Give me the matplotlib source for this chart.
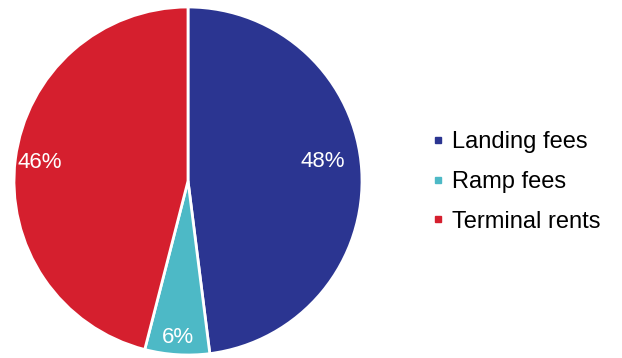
import matplotlib.pyplot as plt
import numpy as np
from matplotlib.lines import Line2D

plt.rcParams['font.family'] = ['Liberation Sans', 'DejaVu Sans']

labels = ['Landing fees', 'Ramp fees', 'Terminal rents']
shares = [48, 6, 46]
colors = ['#2B3591', '#4DB9C6', '#D51F2E']
label_dist = [0.785, 0.90, 0.86]
label_nudge = [4.5, 0, 0]  # degrees, counter-clockwise

fig = plt.figure(figsize=(6.22, 3.58), dpi=100)
ax = fig.add_axes([14 / 622, 3 / 358, 348 / 622, 348 / 358])

wedges, texts, autotexts = ax.pie(
    shares, colors=colors, startangle=90, counterclock=False,
    autopct='%d%%', pctdistance=0.8,
    wedgeprops=dict(edgecolor='white', linewidth=2),
    textprops=dict(color='white', fontsize=16))

# move each percentage label to its own spot
for w, t, d, n in zip(wedges, autotexts, label_dist, label_nudge):
    ang = np.deg2rad((w.theta1 + w.theta2) / 2 + n)
    t.set_position((d * np.cos(ang), d * np.sin(ang)))

ax.set_xlim(-1, 1)
ax.set_ylim(-1, 1)
ax.set_aspect('equal')

handles = [Line2D([], [], marker='s', linestyle='', markersize=5,
                  markerfacecolor=c, markeredgecolor=c) for c in colors]
fig.legend(handles, labels, loc='center left', bbox_to_anchor=(410 / 622, 1 - 182 / 358),
           frameon=False, fontsize=17, handlelength=0.55, handletextpad=0.35,
           labelspacing=0.75)

fig.savefig('out.png', dpi=100)
